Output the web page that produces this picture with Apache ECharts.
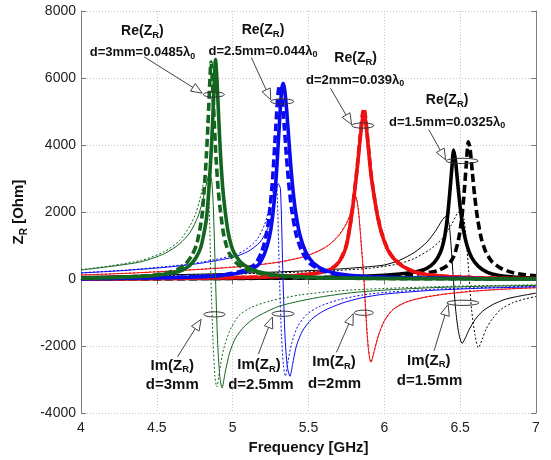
<!DOCTYPE html>
<html><head><meta charset="utf-8">
<script src="https://cdn.jsdelivr.net/npm/echarts/dist/echarts.min.js"></script>
<style>html,body{margin:0;padding:0;background:#fff}#c{width:551px;height:460px}</style>
</head><body><div id="c"></div>
<script>
// ---- axis ticks ----
const xTicks = [4, 4.5, 5, 5.5, 6, 6.5, 7];
const yTicks = [-4000, -2000, 0, 2000, 4000, 6000, 8000];

// ---- d = 3 mm (green) ----
const green_Re_solid = [[4.0,25],[4.2,45],[4.4,80],[4.5,115],[4.6,180],[4.67,270],[4.72,420],[4.76,650],[4.79,950],[4.81,1350],[4.827,1800],[4.842,2600],[4.857,3700],[4.867,4600],[4.877,5700],[4.887,6550],[4.897,5900],[4.907,4900],[4.92,3700],[4.935,2700],[4.95,2050],[4.97,1400],[4.99,1020],[5.01,780],[5.05,520],[5.1,350],[5.17,220],[5.27,130],[5.4,75],[5.6,40],[6.0,18],[6.5,9],[7.0,5]];
const green_Re_dashed = [[4.0,25],[4.2,50],[4.4,90],[4.5,130],[4.58,200],[4.64,300],[4.69,450],[4.73,700],[4.76,1000],[4.78,1400],[4.797,1850],[4.812,2650],[4.827,3700],[4.837,4600],[4.847,5650],[4.857,6480],[4.867,5850],[4.877,4850],[4.89,3650],[4.905,2650],[4.92,2000],[4.94,1350],[4.96,980],[4.98,750],[5.02,500],[5.07,330],[5.14,210],[5.24,120],[5.37,70],[5.6,35],[6.0,16],[6.5,8],[7.0,4]];
const green_Im_solid = [[4.0,270],[4.2,380],[4.4,520],[4.55,760],[4.65,1050],[4.72,1400],[4.77,1850],[4.80,2300],[4.825,2800],[4.845,3100],[4.86,3000],[4.872,2200],[4.887,0],[4.9,-1800],[4.915,-2900],[4.93,-3250],[4.95,-2800],[4.98,-2200],[5.02,-1750],[5.08,-1400],[5.15,-1150],[5.3,-820],[5.45,-650],[5.6,-520],[5.8,-400],[6.0,-330],[6.3,-260],[6.6,-220],[7.0,-190]];
const green_Im_dotted = [[4.0,280],[4.2,400],[4.4,560],[4.55,820],[4.65,1150],[4.72,1600],[4.76,2000],[4.79,2500],[4.81,2900],[4.825,3100],[4.835,3000],[4.845,2200],[4.857,0],[4.87,-1800],[4.883,-2900],[4.895,-3220],[4.915,-2700],[4.94,-2100],[4.98,-1550],[5.04,-1100],[5.12,-850],[5.25,-650],[5.45,-470],[5.7,-350],[6.0,-280],[6.4,-220],[7.0,-170]];

// ---- d = 2.5 mm (blue) ----
const blue_Re_solid = [[4.0,12],[4.4,30],[4.7,55],[4.9,95],[4.98,135],[5.05,190],[5.112,270],[5.172,440],[5.212,780],[5.242,1250],[5.262,1810],[5.285,2920],[5.307,4550],[5.322,5590],[5.332,5840],[5.342,5680],[5.357,4980],[5.377,3740],[5.392,2920],[5.412,2100],[5.442,1340],[5.482,810],[5.532,480],[5.612,260],[5.732,135],[5.9,70],[6.2,35],[6.6,15],[7.0,8]];
const blue_Re_dashed = [[4.0,12],[4.4,32],[4.7,60],[4.9,105],[4.96,145],[5.03,200],[5.089,280],[5.149,450],[5.189,790],[5.219,1260],[5.239,1820],[5.262,2900],[5.284,4500],[5.299,5530],[5.309,5780],[5.319,5620],[5.334,4930],[5.354,3700],[5.369,2890],[5.389,2080],[5.419,1320],[5.459,800],[5.509,470],[5.589,255],[5.709,130],[5.88,68],[6.2,33],[6.6,14],[7.0,7]];
const blue_Im_solid = [[4.0,180],[4.3,260],[4.6,370],[4.8,480],[5.0,650],[5.1,820],[5.18,1100],[5.23,1500],[5.26,1950],[5.285,2500],[5.3,2850],[5.315,2700],[5.332,0],[5.345,-1700],[5.36,-2600],[5.378,-2900],[5.395,-2550],[5.42,-2000],[5.46,-1550],[5.52,-1200],[5.6,-950],[5.72,-720],[5.85,-560],[6.0,-450],[6.3,-340],[6.6,-280],[7.0,-230]];
const blue_Im_dotted = [[4.0,190],[4.3,270],[4.6,390],[4.8,510],[5.0,700],[5.08,860],[5.16,1180],[5.21,1620],[5.24,2100],[5.265,2600],[5.28,2850],[5.292,2700],[5.309,0],[5.322,-1700],[5.335,-2600],[5.348,-2900],[5.365,-2450],[5.39,-1900],[5.43,-1400],[5.49,-1050],[5.57,-820],[5.7,-620],[5.85,-480],[6.0,-400],[6.3,-310],[6.6,-260],[7.0,-210]];

// ---- d = 2 mm (red) ----
const red_Re_solid = [[4.0,3],[4.5,15],[4.9,35],[5.2,60],[5.4,100],[5.55,170],[5.63,260],[5.68,400],[5.72,650],[5.75,1000],[5.78,1750],[5.80,2450],[5.82,3250],[5.84,4150],[5.855,4750],[5.865,4950],[5.877,4700],[5.893,4000],[5.91,3200],[5.925,2700],[5.95,2000],[5.98,1400],[6.02,900],[6.06,620],[6.12,380],[6.2,210],[6.3,120],[6.5,55],[6.75,25],[7.0,12]];
const red_Re_dashed = [[4.0,3],[4.5,15],[4.9,35],[5.2,62],[5.4,105],[5.55,175],[5.63,270],[5.68,410],[5.72,670],[5.75,1020],[5.78,1780],[5.80,2500],[5.82,3300],[5.84,4250],[5.855,4900],[5.866,5100],[5.877,4800],[5.893,4050],[5.91,3250],[5.925,2720],[5.95,2020],[5.98,1420],[6.02,910],[6.06,630],[6.12,390],[6.2,215],[6.3,125],[6.5,57],[6.75,26],[7.0,12]];
const red_Im_solid = [[4.0,120],[4.3,170],[4.6,240],[4.9,320],[5.1,390],[5.3,500],[5.45,640],[5.55,800],[5.63,1000],[5.7,1300],[5.75,1650],[5.78,2000],[5.80,2350],[5.812,2450],[5.83,2000],[5.85,900],[5.865,0],[5.88,-1200],[5.895,-2100],[5.911,-2480],[5.93,-2200],[5.96,-1700],[6.0,-1250],[6.06,-900],[6.15,-680],[6.25,-560],[6.4,-450],[6.6,-360],[6.8,-300],[7.0,-260]];
const red_Im_dotted = [[4.0,125],[4.3,175],[4.6,245],[4.9,330],[5.1,400],[5.3,510],[5.45,650],[5.55,810],[5.63,1010],[5.7,1320],[5.75,1670],[5.78,2020],[5.80,2370],[5.813,2460],[5.83,2020],[5.85,920],[5.866,0],[5.881,-1200],[5.896,-2100],[5.912,-2490],[5.931,-2200],[5.96,-1690],[6.0,-1240],[6.06,-890],[6.15,-670],[6.25,-550],[6.4,-440],[6.6,-350],[6.8,-295],[7.0,-255]];

// ---- d = 1.5 mm (black) ----
const black_Re_solid = [[4.0,5],[4.6,15],[5.2,30],[5.6,50],[5.9,90],[6.1,150],[6.2,210],[6.28,320],[6.33,500],[6.37,800],[6.395,1200],[6.415,1800],[6.43,2500],[6.445,3300],[6.457,3850],[6.47,3500],[6.485,2800],[6.5,2150],[6.52,1500],[6.545,1000],[6.575,650],[6.62,380],[6.68,200],[6.75,110],[6.85,60],[7.0,30]];
const black_Re_dashed = [[4.0,5],[4.8,15],[5.4,30],[5.8,50],[6.1,100],[6.25,170],[6.35,250],[6.42,420],[6.46,700],[6.49,1200],[6.51,1800],[6.525,2500],[6.54,3400],[6.554,4100],[6.565,3900],[6.58,3200],[6.595,2500],[6.615,1800],[6.64,1200],[6.67,800],[6.71,520],[6.77,320],[6.85,190],[6.93,130],[7.0,100]];
const black_Im_solid = [[4.0,80],[4.5,120],[5.0,170],[5.4,230],[5.7,300],[5.9,370],[6.0,420],[6.1,560],[6.2,800],[6.28,1100],[6.34,1450],[6.38,1750],[6.405,1870],[6.425,1700],[6.44,1000],[6.455,0],[6.47,-900],[6.49,-1600],[6.513,-1920],[6.535,-1750],[6.56,-1500],[6.6,-1200],[6.65,-950],[6.72,-750],[6.8,-600],[6.9,-500],[7.0,-420]];
const black_Im_dotted = [[4.0,60],[4.5,100],[5.0,150],[5.4,200],[5.7,260],[5.9,320],[6.0,380],[6.1,460],[6.2,620],[6.3,880],[6.38,1200],[6.44,1600],[6.48,1950],[6.505,2050],[6.525,1800],[6.545,900],[6.56,0],[6.575,-900],[6.597,-1650],[6.62,-2050],[6.645,-1800],[6.67,-1500],[6.71,-1200],[6.77,-900],[6.85,-700],[6.93,-590],[7.0,-520]];

// ---- annotation texts ----
const reTitles = ['d=3mm=0.0485λ', 'd=2.5mm=0.044λ', 'd=2mm=0.039λ', 'd=1.5mm=0.0325λ'];
const imTitles = ['d=3mm', 'd=2.5mm', 'd=2mm', 'd=1.5mm'];

const COL = {green:'#13661f', blue:'#0a0af0', red:'#ee1111', black:'#000000'};
const FONT = 'Liberation Sans, Arial, sans-serif';

function group(color, reS, reD, imS, imD) {
  const base = {type:'line', showSymbol:false, smooth:0.25, animation:false, silent:true};
  return [
    Object.assign({}, base, {data:imS, lineStyle:{color:color, width:1}}),
    Object.assign({}, base, {data:imD, lineStyle:{color:color, width:1, type:[2,2]}}),
    Object.assign({}, base, {data:reD, lineStyle:{color:color, width:3.6, type:[8,4]}}),
    Object.assign({}, base, {data:reS, lineStyle:{color:color, width:3.6}})
  ];
}

const series = [].concat(
  group(COL.black, black_Re_solid, black_Re_dashed, black_Im_solid, black_Im_dotted),
  group(COL.red, red_Re_solid, red_Re_dashed, red_Im_solid, red_Im_dotted),
  group(COL.blue, blue_Re_solid, blue_Re_dashed, blue_Im_solid, blue_Im_dotted),
  group(COL.green, green_Re_solid, green_Re_dashed, green_Im_solid, green_Im_dotted)
);

const xMin = xTicks[0], xMax = xTicks[xTicks.length-1], xInt = xTicks[1]-xTicks[0];
const yMin = yTicks[0], yMax = yTicks[yTicks.length-1], yInt = yTicks[1]-yTicks[0];
const gridLine = {show:true, lineStyle:{color:'#c4c4c4', type:[1,2], width:1}};
const tick = {show:true, inside:true, length:5, lineStyle:{color:'#777'}};
const axLine = {show:true, lineStyle:{color:'#808080', width:1}};

const chart = echarts.init(document.getElementById('c'), null, {renderer:'canvas'});
chart.setOption({
  animation:false,
  backgroundColor:'#fff',
  grid:{left:81, right:15, top:11, bottom:45},
  xAxis:[
    {type:'value', min:xMin, max:xMax, interval:xInt, axisLine:axLine, axisTick:tick, splitLine:gridLine,
     axisLabel:{color:'#222', fontSize:14, fontFamily:FONT, margin:8, formatter:(v)=>String(v)},
     name:'Frequency [GHz]', nameLocation:'middle', nameGap:24,
     nameTextStyle:{fontSize:15, fontWeight:'bold', fontFamily:FONT, color:'#111'}},
    {type:'value', position:'top', min:xMin, max:xMax, interval:xInt, axisLine:axLine, axisTick:tick, splitLine:{show:false}, axisLabel:{show:false}}
  ],
  yAxis:[
    {type:'value', min:yMin, max:yMax, interval:yInt, axisLine:axLine, axisTick:tick, splitLine:gridLine,
     axisLabel:{color:'#222', fontSize:14, fontFamily:FONT, margin:5, formatter:(v)=>String(v)},
     name:'{a|Z}{s|R}{a| [Ohm]}', nameLocation:'middle', nameGap:47, nameRotate:90,
     nameTextStyle:{rich:{
       a:{fontSize:15, fontWeight:'bold', fontFamily:FONT, color:'#111', lineHeight:20},
       s:{fontSize:10, fontWeight:'bold', fontFamily:FONT, color:'#111', lineHeight:20, verticalAlign:'bottom'}}}},
    {type:'value', position:'right', min:yMin, max:yMax, interval:yInt, axisLine:axLine, axisTick:tick, splitLine:{show:false}, axisLabel:{show:false}}
  ],
  series: series
});

// ---- annotations (placed in data coordinates) ----
const reNotes = [
  {title:[4.405,7399], sub:[4.405,6758], tail:[4.417,6630], tip:[4.799,5547], ell:[4.876,5507], w:21},
  {title:[5.20,7418], sub:[5.20,6808], tail:[5.123,6611], tip:[5.251,5350], ell:[5.327,5300], w:23},
  {title:[5.811,6581], sub:[5.807,5941], tail:[5.645,5694], tip:[5.784,4611], ell:[5.858,4581], w:22},
  {title:[6.414,5330], sub:[6.414,4680], tail:[6.293,4463], tip:[6.404,3557], ell:[6.513,3527], w:32}
];
const imNotes = [
  {title:[4.602,-2581], sub:[4.602,-3172], tail:[4.637,-2315], tip:[4.792,-1202], ell:[4.880,-1054], w:21},
  {title:[5.174,-2562], sub:[5.186,-3172], tail:[5.170,-2236], tip:[5.262,-1133], ell:[5.332,-1034], w:22},
  {title:[5.668,-2483], sub:[5.672,-3123], tail:[5.684,-2187], tip:[5.795,-1034], ell:[5.865,-1005], w:19},
  {title:[6.293,-2433], sub:[6.298,-3044], tail:[6.328,-2138], tip:[6.421,-759], ell:[6.518,-709], w:32}
];

function px(p){ return chart.convertToPixel({xAxisIndex:0, yAxisIndex:0}, p); }
const richBig = {
  a:{fontSize:14, fontWeight:'bold', fontFamily:FONT, fill:'#111', lineHeight:18},
  s:{fontSize:9.5, fontWeight:'bold', fontFamily:FONT, fill:'#111', lineHeight:18, verticalAlign:'bottom'},
  b:{fontSize:13, fontWeight:'bold', fontFamily:FONT, fill:'#111', lineHeight:16},
  bs:{fontSize:9, fontWeight:'bold', fontFamily:FONT, fill:'#111', lineHeight:16, verticalAlign:'bottom'},
  c:{fontSize:15, fontWeight:'bold', fontFamily:FONT, fill:'#111', lineHeight:18}
};
const g = [];
function text(p, str){
  const q = px(p);
  g.push({type:'text', x:q[0], y:q[1], z:100, silent:true,
    style:{text:str, rich:richBig, align:'center', verticalAlign:'middle'}});
}
function arrow(a, b){
  const S = px(a), T = px(b);
  const dx = T[0]-S[0], dy = T[1]-S[1], L = Math.hypot(dx,dy);
  const ux = dx/L, uy = dy/L, nx = -uy, ny = ux, hl = 11, hw = 4.5;
  const B = [T[0]-ux*hl, T[1]-uy*hl];
  g.push({type:'line', z:100, silent:true, shape:{x1:S[0], y1:S[1], x2:B[0], y2:B[1]}, style:{stroke:'#444', lineWidth:1}});
  g.push({type:'polygon', z:100, silent:true, shape:{points:[T, [B[0]+nx*hw, B[1]+ny*hw], [B[0]-nx*hw, B[1]-ny*hw]]},
    style:{fill:'#fff', stroke:'#444', lineWidth:1}});
}
function ellipse(p, w){
  const q = px(p);
  g.push({type:'ellipse', z:100, silent:true, shape:{cx:q[0], cy:q[1], rx:w/2, ry:2.6}, style:{fill:'none', stroke:'#333', lineWidth:1}});
}
reNotes.forEach((n,i)=>{
  text(n.title, '{a|Re(Z}{s|R}{a|)}');
  text(n.sub, '{b|' + reTitles[i] + '}{bs|0}');
  arrow(n.tail, n.tip);
  ellipse(n.ell, n.w);
});
imNotes.forEach((n,i)=>{
  text(n.title, '{c|Im(Z}{s|R}{c|)}');
  text(n.sub, '{c|' + imTitles[i] + '}');
  arrow(n.tail, n.tip);
  ellipse(n.ell, n.w);
});
chart.setOption({graphic:{elements:g}});
</script></body></html>
